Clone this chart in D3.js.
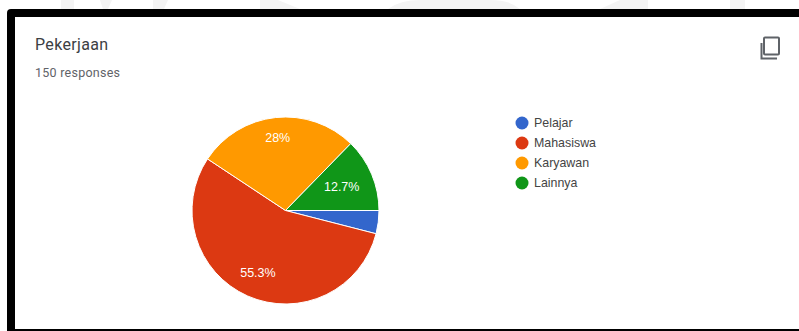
<!DOCTYPE html>
<html>
<head>
<meta charset="utf-8">
<script src="https://cdn.jsdelivr.net/npm/d3@7/dist/d3.min.js"></script>
<style>
html, body { margin: 0; padding: 0; background: #fff; overflow: hidden; }
svg { display: block; }
</style>
</head>
<body>
<svg id="chart" width="799" height="331"></svg>
<script>
const categories = ["Pelajar", "Mahasiswa", "Karyawan", "Lainnya"];
const shares = [4, 55.3, 28, 12.7];
const sliceLabels = ["", "55.3%", "28%", "12.7%"];
const palette = ["#3366cc", "#dc3912", "#ff9900", "#109618"];

const svg = d3.select("#chart");
const roboto = "Roboto, 'Liberation Sans', sans-serif";
const arial = "'Liberation Sans', Arial, sans-serif";

// Faint page lettering showing above the card
svg.append("path")
  .attr("d", "M61 0H74V9H61Z M100 0H112L108 9H103Z M153 0H168L164 9H153Z M260 0H278L300 9H260Z M388 9Q400 0 420 0H490Q510 0 520 9Z M600 9L620 0H648V9Z M730 0H745V9H730Z")
  .attr("fill", "#f4f4f4");

// Card with its heavy black border, running off the right of the window
svg.append("rect").attr("x", 7).attr("y", 9).attr("width", 820).attr("height", 340)
  .attr("rx", 4).attr("fill", "#000");
svg.append("rect").attr("x", 15).attr("y", 17).attr("width", 790).attr("height", 312)
  .attr("fill", "#fff");

svg.append("text").attr("x", 35).attr("y", 50)
  .attr("font-family", roboto).attr("font-size", 16).attr("letter-spacing", 0.35)
  .attr("fill", "#3c4043").text("Pekerjaan");
svg.append("text").attr("x", 35).attr("y", 77)
  .attr("font-family", roboto).attr("font-size", 12.5).attr("letter-spacing", 0.25)
  .attr("fill", "#5f6368").text("150 responses");

// Copy icon, top right of the card
const icon = svg.append("g").attr("transform", "translate(760,36)")
  .attr("fill", "none").attr("stroke", "#5f6368").attr("stroke-width", 2);
icon.append("rect").attr("x", 4).attr("y", 1.5).attr("width", 15).attr("height", 17).attr("rx", 1);
icon.append("path").attr("d", "M1.5 7V22.5H17");

// Pie, clockwise from three o'clock
const pie = d3.pie().sort(null).value(d => d)
  .startAngle(Math.PI / 2).endAngle(Math.PI / 2 + 2 * Math.PI);
const radius = 93.5;
const arc = d3.arc().innerRadius(0).outerRadius(radius);
const pieGroup = svg.append("g").attr("transform", "translate(285.5,210.5)");
const slices = pie(shares);

pieGroup.selectAll("path").data(slices).join("path")
  .attr("d", arc)
  .attr("fill", (d, i) => palette[i])
  .attr("stroke", "#fff")
  .attr("stroke-width", 1);

// Each label sits at its own distance from the centre along the slice's mid-angle
const labelDistance = [0, 68, 73, 61];
pieGroup.selectAll("text").data(slices).join("text")
  .attr("transform", (d, i) => {
    const r = labelDistance[i];
    return `translate(${d3.arc().innerRadius(r).outerRadius(r).centroid(d)})`;
  })
  .attr("text-anchor", "middle")
  .attr("dy", "0.35em")
  .attr("font-family", arial)
  .attr("font-size", 12.5)
  .attr("fill", "#fff")
  .text((d, i) => sliceLabels[i]);

// Legend
const legendY = d3.scaleBand().domain(categories).range([113, 193]);
const legend = svg.append("g").selectAll("g").data(categories).join("g")
  .attr("transform", d => `translate(522,${legendY(d) + legendY.bandwidth() / 2})`);
legend.append("circle").attr("r", 6.5).attr("fill", (d, i) => palette[i]);
legend.append("text").attr("x", 12).attr("dy", "0.35em")
  .attr("font-family", arial)
  .attr("font-size", 12.4).attr("fill", "#444").text(d => d);
</script>
</body>
</html>
